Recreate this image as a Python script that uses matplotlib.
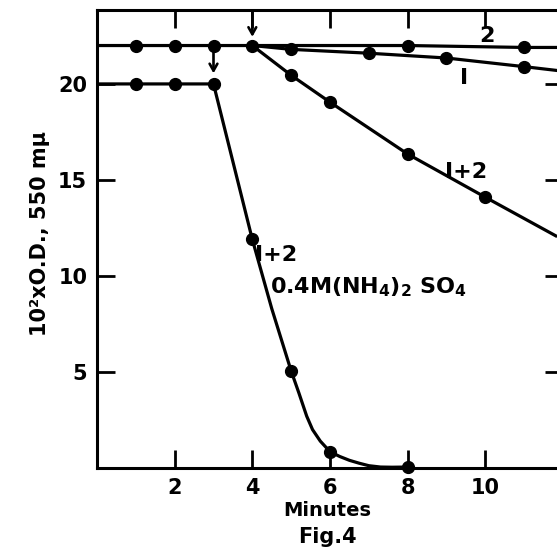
import matplotlib
matplotlib.use("Agg")
import matplotlib.pyplot as plt

plt.rcParams['font.family'] = ['DejaVu Sans']
plt.rcParams['mathtext.default'] = 'regular'

# Kurve 2
x2 = [1, 2, 3, 4, 8, 11]
y2 = [22, 22, 22, 22, 22, 21.9]
x2_linie = [0, 1, 2, 3, 4, 8, 11, 12]
y2_linie = [22, 22, 22, 22, 22, 22, 21.9, 21.9]

# Kurve 1
x1 = [5, 7, 9, 11]
y1 = [21.8, 21.6, 21.35, 20.9]
x1_linie = [4, 5, 7, 9, 11, 11.85]
y1_linie = [22, 21.8, 21.6, 21.35, 20.9, 20.7]

# Kurve 1+2
x12 = [5, 6, 8, 10]
y12 = [20.45, 19.05, 16.35, 14.1]
x12_linie = [4, 5, 6, 8, 10, 11.85]
y12_linie = [22, 20.45, 19.05, 16.35, 14.1, 12.05]

# Kurve 1+2 mit 0.4M (NH4)2SO4
xs = [1, 2, 3, 4, 5, 6, 8]
ys = [20, 20, 20, 11.9, 5.05, 0.85, 0.05]
# Verlauf der gezeichneten Linie
xs_linie = [0, 1, 2, 3, 4, 4.5, 5, 5.2, 5.4, 5.55, 5.75, 6, 6.25, 6.5, 6.75, 7, 7.3, 7.6, 8]
ys_linie = [20, 20, 20, 20, 11.9, 8.3, 5.05, 3.9, 2.7, 2.0, 1.4, 0.85, 0.6, 0.4, 0.25, 0.12, 0.05, 0.04, 0.05]

# Zugabezeitpunkte (Pfeile)
pfeil_x = [4, 3]
pfeil_von = [23.75, 21.9]
pfeil_bis = [22.45, 20.55]

xticks = [2, 4, 6, 8, 10]
yticks = [5, 10, 15, 20]

fig = plt.figure(figsize=(5.57, 5.53), dpi=100)
ax = fig.add_axes([97 / 557, 85 / 553, 466 / 557, 458 / 553])

lw = 2.3
ms = 8.5
for xl, yl, xp, yp in [(x2_linie, y2_linie, x2, y2),
                       (x1_linie, y1_linie, x1, y1),
                       (x12_linie, y12_linie, x12, y12),
                       (xs_linie, ys_linie, xs, ys)]:
    ax.plot(xl, yl, color='black', lw=lw, solid_capstyle='butt',
            solid_joinstyle='round', clip_on=False)
    ax.plot(xp, yp, 'o', color='black', ms=ms, clip_on=False)

for px, a, b in zip(pfeil_x, pfeil_von, pfeil_bis):
    ax.annotate('', xy=(px, b), xytext=(px, a),
                arrowprops=dict(arrowstyle='->,head_length=0.5,head_width=0.28',
                                color='black', lw=1.9, shrinkA=0, shrinkB=0))

ax.set_xlim(0, 12)
ax.set_ylim(0, 23.85)
ax.set_xticks(xticks)
ax.set_yticks(yticks)
ax.tick_params(direction='in', length=13, width=2, top=True, right=True,
               labelsize=15, pad=7)
for lab in ax.get_xticklabels() + ax.get_yticklabels():
    lab.set_fontweight('bold')
for s in ax.spines.values():
    s.set_linewidth(2.2)

ax.text(10.05, 22.5, '2', fontsize=16, fontweight='bold', ha='center', va='center')
ax.text(9.45, 20.3, 'I', fontsize=16, fontweight='bold', ha='center', va='center')
ax.text(9.5, 15.4, 'I+2', fontsize=16, fontweight='bold', ha='center', va='center')
ax.text(4.6, 11.1, 'I+2', fontsize=16, fontweight='bold', ha='center', va='center')
ax.text(4.45, 9.4, r'0.4M(NH$_4$)$_2$ SO$_4$', fontsize=16, fontweight='bold',
        ha='left', va='center')

fig.text(40 / 557, 1 - 233 / 553, '10²xO.D., 550 mμ', rotation=90, fontsize=15,
         fontweight='bold', ha='center', va='center')
fig.text(327 / 557, 1 - 511 / 553, 'Minutes', fontsize=14, fontweight='bold',
         ha='center', va='center')
fig.text(327 / 557, 1 - 537 / 553, 'Fig.4', fontsize=15, fontweight='bold',
         ha='center', va='center')

fig.savefig('out.png', dpi=100)
